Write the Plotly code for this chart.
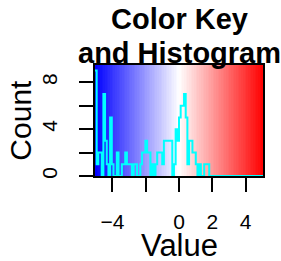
import numpy as np
import plotly.graph_objects as go

# colour-key range and histogram counts (one count per break interval)
key_min = -5.05
key_max = 5.05
counts = [9, 1, 2, 2, 0, 7, 3, 1, 0, 5,
          1, 0, 0, 2, 0, 0, 1, 1, 2, 1,
          1, 1, 0, 1, 1, 0, 0, 1, 2, 2,
          3, 2, 2, 0, 1, 0, 1, 2, 2, 2,
          1, 3, 3, 3, 3, 3, 0, 1, 4, 3,
          5, 6, 6, 7, 5, 1, 3, 3, 2, 2,
          1, 0, 1, 0, 0, 1, 1, 1, 0, 0,
          0, 0, 0, 0, 0, 0, 0, 0, 0, 0,
          0, 0, 0, 0, 0, 0, 0, 0, 0, 0,
          0, 0, 0, 0, 0, 0, 0, 0, 0, 0]
x_ticks = [-4, -2, 0, 2, 4]
x_ticktext = ["\u22124", "", "0", "2", "4"]
y_ticks = [0, 2, 4, 6, 8]
y_ticktext = ["0", "", "4", "", "8"]

breaks = np.linspace(key_min, key_max, len(counts) + 1)
centres = (breaks[:-1] + breaks[1:]) / 2
ytop = max(counts) / 0.95

fig = go.Figure()
fig.add_trace(go.Heatmap(
    x=breaks, y=[0, ytop], z=[centres],
    colorscale=[[0, "rgb(0,0,255)"], [0.5, "rgb(255,255,255)"], [1, "rgb(255,0,0)"]],
    zmin=key_min, zmax=key_max, showscale=False, hoverinfo="skip"))
fig.add_trace(go.Scatter(
    x=breaks, y=counts + [counts[-1]], mode="lines",
    line=dict(color="rgb(0,255,255)", width=2, shape="hv"), showlegend=False))

font = "Liberation Sans, Arial, sans-serif"
fig.update_layout(
    width=281, height=261,
    margin=dict(l=95, r=18, t=65, b=85, autoexpand=False),
    paper_bgcolor="white", plot_bgcolor="white",
    font=dict(family=font, color="black"),
    showlegend=False,
    xaxis=dict(range=[key_min, key_max], tickvals=x_ticks, ticktext=x_ticktext,
               ticks="outside", ticklen=14, tickwidth=1.5, tickcolor="black",
               showline=True, linecolor="black", linewidth=2, mirror=True,
               showgrid=False, zeroline=False, tickfont=dict(size=21),
               ticklabelstandoff=12, automargin=False),
    yaxis=dict(range=[0, ytop], tickvals=y_ticks, ticktext=y_ticktext,
               ticks="outside", ticklen=14, tickwidth=1.5, tickcolor="black",
               showline=True, linecolor="black", linewidth=2, mirror=True,
               showgrid=False, zeroline=False, tickfont=dict(size=21),
               tickangle=-90, ticklabelstandoff=14, automargin=False),
    annotations=[
        dict(text="<b>Color Key</b>", x=0.5, y=(175.7 - 19) / 110.7, xref="paper", yref="paper",
             showarrow=False, font=dict(size=29), xanchor="center", yanchor="middle"),
        dict(text="<b>and Histogram</b>", x=0.5, y=(175.7 - 53) / 110.7, xref="paper", yref="paper",
             showarrow=False, font=dict(size=29), xanchor="center", yanchor="middle"),
        dict(text="Value", x=0.5, y=(175.7 - 245) / 110.7, xref="paper", yref="paper",
             showarrow=False, font=dict(size=31), xanchor="center", yanchor="middle"),
        dict(text="Count", x=(20 - 95) / 168.3, y=0.5, xref="paper", yref="paper",
             showarrow=False, font=dict(size=30), textangle=-90,
             xanchor="center", yanchor="middle"),
    ],
)
fig.write_html("out.html", config={"displayModeBar": False},
               post_script="document.body.style.margin='0px';")
